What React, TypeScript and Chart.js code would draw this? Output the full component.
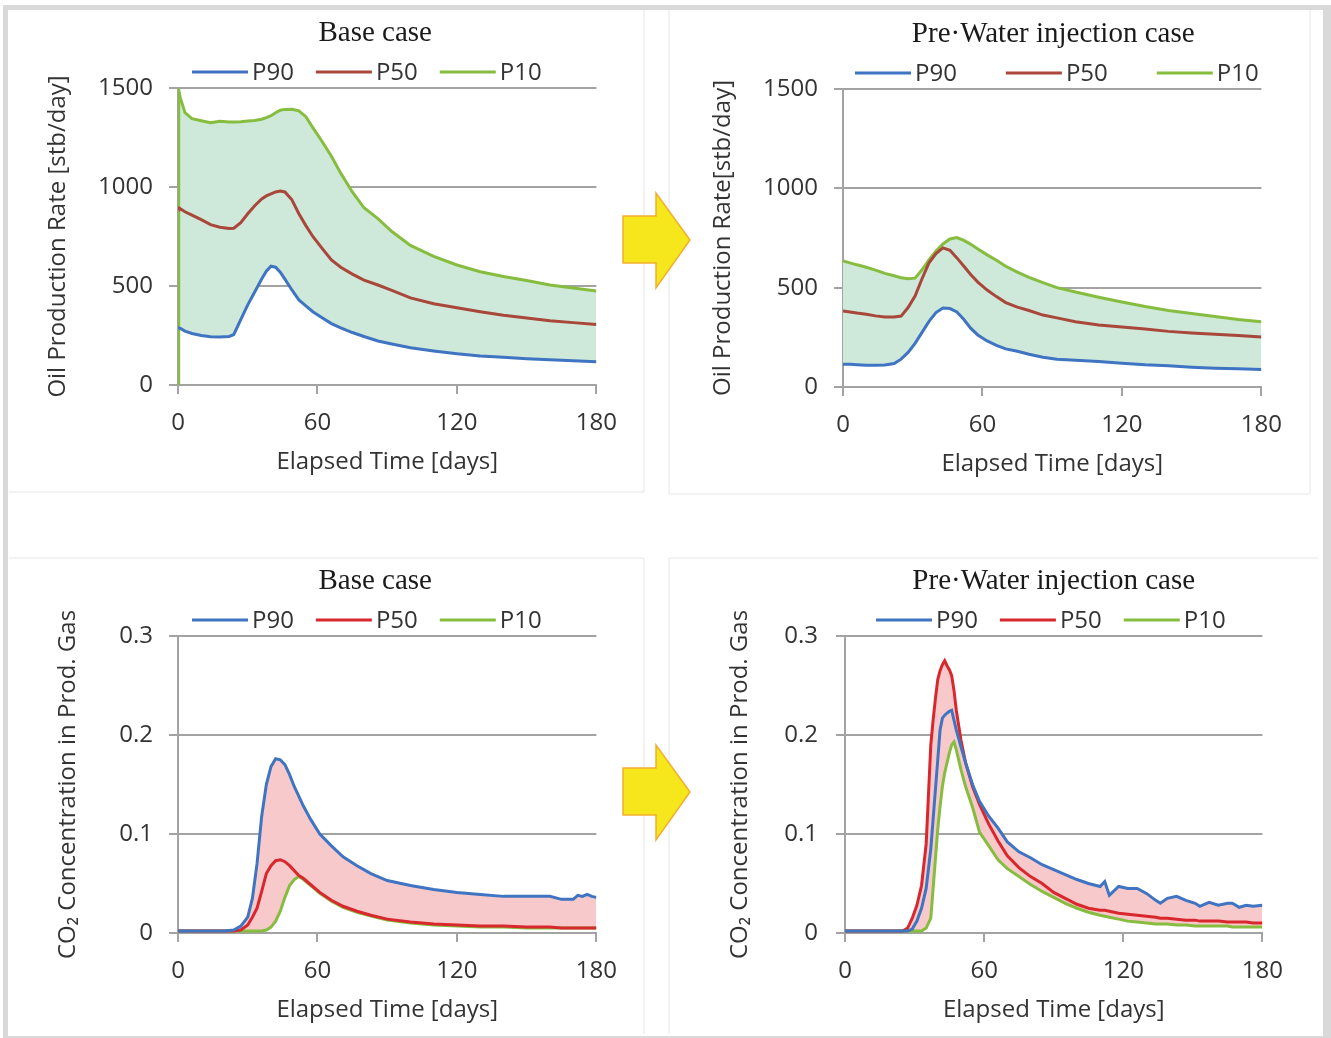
import React, { useEffect, useRef } from "react";
import { Chart, registerables } from "chart.js";

Chart.register(...registerables);

// ---------- DATA ----------
const seriesLabels = ["P90", "P50", "P10"];
const oilTicks = [0, 500, 1000, 1500];
const co2Ticks = [0, 0.1, 0.2, 0.3];
const dayTicks = [0, 60, 120, 180];

// Oil production, base case
const oilBaseDays = [0, 0.3, 1, 3, 6, 10, 14, 18, 22, 24, 27, 30, 33, 36, 38, 40, 42, 44, 46, 49, 52, 55, 58, 62, 66, 70, 75, 80, 86, 92, 100, 110, 120, 130, 140, 150, 160, 170, 180];
const oilBaseP90 = [290, 290, 286, 272, 260, 250, 244, 243, 245, 255, 330, 405, 470, 535, 575, 600, 595, 570, 535, 480, 430, 400, 370, 340, 310, 288, 265, 245, 222, 207, 188, 172, 158, 146, 140, 133, 127, 122, 118];
const oilBaseP50 = [900, 895, 890, 875, 858, 835, 810, 797, 790, 792, 820, 865, 905, 940, 955, 965, 975, 980, 975, 935, 865, 805, 750, 690, 632, 595, 560, 530, 505, 478, 440, 410, 390, 370, 352, 338, 325, 315, 306];
const oilBaseP10 = [0, 1490, 1450, 1375, 1345, 1335, 1325, 1332, 1328, 1328, 1330, 1333, 1336, 1342, 1350, 1360, 1375, 1388, 1392, 1393, 1385, 1355, 1300, 1230, 1155, 1070, 975, 895, 840, 775, 705, 650, 606, 572, 548, 528, 505, 490, 475];

// Oil production, pre-water injection case
const oilPreDays = [0, 3, 6, 10, 14, 18, 22, 25, 28, 31, 34, 37, 40, 43, 46, 49, 52, 55, 58, 62, 66, 70, 75, 80, 86, 92, 100, 110, 120, 130, 140, 150, 160, 170, 180];
const oilPreP90 = [115, 114, 112, 110, 110, 111, 118, 140, 174, 220, 275, 330, 375, 398, 395, 378, 340, 295, 262, 232, 210, 192, 180, 165, 150, 140, 135, 128, 120, 112, 107, 100, 95, 92, 88];
const oilPreP50 = [383, 378, 372, 366, 358, 352, 352, 357, 400, 458, 545, 625, 672, 700, 688, 650, 608, 565, 528, 488, 455, 425, 402, 385, 362, 348, 328, 312, 302, 292, 280, 272, 266, 259, 252];
const oilPreP10 = [634, 625, 615, 603, 588, 572, 560, 550, 545, 548, 590, 640, 685, 720, 745, 752, 738, 718, 695, 665, 638, 608, 578, 552, 525, 500, 478, 452, 428, 405, 385, 370, 355, 340, 328];

// CO2 concentration, base case
const co2BaseDays = [0, 10, 20, 24, 27, 30, 32, 34, 36, 38, 40, 42, 44, 46, 48, 50, 52, 54, 57, 61, 66, 71, 77, 83, 90, 100, 110, 120, 130, 140, 150, 160, 165, 170, 172, 174, 176, 178, 180];
const co2BaseP90 = [0.002, 0.002, 0.002, 0.003, 0.007, 0.016, 0.035, 0.07, 0.118, 0.15, 0.168, 0.176, 0.175, 0.17, 0.16, 0.148, 0.138, 0.128, 0.115, 0.1, 0.088, 0.077, 0.068, 0.06, 0.053, 0.048, 0.044, 0.041, 0.039, 0.037, 0.037, 0.037, 0.034, 0.034, 0.038, 0.037, 0.039, 0.037, 0.036];
const co2BaseP50 = [0.002, 0.002, 0.002, 0.002, 0.003, 0.008, 0.016, 0.025, 0.042, 0.06, 0.068, 0.073, 0.074, 0.072, 0.068, 0.063, 0.058, 0.055, 0.049, 0.041, 0.033, 0.027, 0.022, 0.018, 0.014, 0.011, 0.009, 0.008, 0.007, 0.007, 0.006, 0.006, 0.005, 0.005, 0.005, 0.005, 0.005, 0.005, 0.005];
const co2BaseP10 = [0.002, 0.002, 0.002, 0.002, 0.002, 0.002, 0.002, 0.002, 0.002, 0.003, 0.006, 0.012, 0.022, 0.036, 0.048, 0.054, 0.057, 0.054, 0.048, 0.04, 0.032, 0.026, 0.021, 0.017, 0.013, 0.01, 0.008, 0.007, 0.006, 0.006, 0.005, 0.005, 0.005, 0.005, 0.005, 0.005, 0.005, 0.005, 0.005];

// CO2 concentration, pre-water injection case
const co2PreDays = [0, 10, 20, 25, 27, 29, 31, 33, 35, 37, 38, 39, 40, 41, 42, 43, 44, 45, 46, 47, 48, 50, 52, 55, 58, 62, 66, 70, 75, 80, 85, 90, 95, 100, 105, 110, 112, 114, 118, 122, 126, 130, 134, 136, 139, 143, 147, 151, 153, 157, 161, 165, 167, 170, 173, 176, 180];
const co2PreP90 = [0.002, 0.002, 0.002, 0.002, 0.002, 0.004, 0.012, 0.025, 0.045, 0.085, 0.115, 0.145, 0.175, 0.205, 0.217, 0.22, 0.222, 0.224, 0.225, 0.215, 0.205, 0.188, 0.172, 0.15, 0.133, 0.118, 0.106, 0.092, 0.082, 0.076, 0.069, 0.064, 0.059, 0.054, 0.05, 0.047, 0.052, 0.038, 0.047, 0.045, 0.045, 0.04, 0.033, 0.03, 0.035, 0.037, 0.033, 0.03, 0.027, 0.031, 0.028, 0.03, 0.03, 0.026, 0.028, 0.027, 0.028];
const co2PreP50 = [0.002, 0.002, 0.002, 0.002, 0.005, 0.015, 0.028, 0.048, 0.09, 0.19, 0.215, 0.237, 0.256, 0.265, 0.271, 0.275, 0.27, 0.266, 0.26, 0.245, 0.225, 0.195, 0.172, 0.148, 0.13, 0.11, 0.093, 0.078, 0.066, 0.057, 0.05, 0.041, 0.035, 0.029, 0.025, 0.023, 0.023, 0.022, 0.02, 0.019, 0.018, 0.017, 0.016, 0.015, 0.015, 0.014, 0.013, 0.013, 0.012, 0.012, 0.012, 0.011, 0.011, 0.011, 0.011, 0.01, 0.01];
const co2PreP10 = [0.002, 0.002, 0.002, 0.002, 0.002, 0.002, 0.002, 0.002, 0.005, 0.015, 0.045, 0.075, 0.105, 0.128, 0.148, 0.162, 0.172, 0.182, 0.19, 0.193, 0.185, 0.165, 0.148, 0.127, 0.102, 0.088, 0.074, 0.065, 0.057, 0.049, 0.042, 0.036, 0.03, 0.025, 0.021, 0.018, 0.017, 0.016, 0.014, 0.012, 0.011, 0.01, 0.009, 0.009, 0.009, 0.008, 0.008, 0.007, 0.007, 0.007, 0.007, 0.007, 0.006, 0.006, 0.006, 0.006, 0.006];

// ---------- STYLE ----------
const SANS = "'Open Sans', 'DejaVu Sans', sans-serif";
const SERIF = "'Liberation Serif', 'DejaVu Serif', serif";
const GRID = "#a3a3a3";
const TEXT = "#333333";
const BLUE = "#3f74c2";
const GREEN = "#86bd3f";
const BROWN = "#a8473a";
const RED = "#d8282d";
const MINT = "rgb(206,232,217)";
const PINK = "rgb(248,201,203)";

const headerPlugin = {
  id: "header",
  afterDraw(chart: any, _args: any, opts: any) {
    const { ctx, chartArea } = chart;
    ctx.save();
    ctx.fillStyle = "#1a1a1a";
    ctx.font = `29px ${SERIF}`;
    ctx.textAlign = "center";
    ctx.textBaseline = "middle";
    ctx.fillText(opts.title, (chartArea.left + chartArea.right) / 2 + opts.titleDx, chartArea.top - 55);
    ctx.font = `24px ${SANS}`;
    ctx.textAlign = "left";
    ctx.fillStyle = TEXT;
    let x = chartArea.left + opts.legendDx;
    const y = chartArea.top - 16;
    chart.data.datasets.forEach((ds: any) => {
      ctx.strokeStyle = ds.borderColor;
      ctx.lineWidth = 3;
      ctx.beginPath();
      ctx.moveTo(x, y);
      ctx.lineTo(x + 56, y);
      ctx.stroke();
      ctx.fillText(ds.label, x + 60, y + 1);
      x += 60 + ctx.measureText(ds.label).width + opts.legendGap;
    });
    ctx.restore();
  },
};

type Spec = {
  left: number; top: number; w: number; h: number; yw: number; yPad: number;
  days: number[]; p90: number[]; p50: number[]; p10: number[];
  midColor: string; fillColor: string; fillMid: boolean;
  yMax: number; yTicks: number[]; yTitle: string;
  title: string; titleDx: number; legendDx: number; legendGap: number;
};

function pts(days: number[], vals: number[]) {
  return days.map((d, i) => ({ x: d, y: vals[i] }));
}

function buildConfig(s: Spec): any {
  const fill = { target: 2, above: s.fillColor, below: s.fillColor };
  return {
    type: "line",
    data: {
      datasets: [
        { label: seriesLabels[0], data: pts(s.days, s.p90), borderColor: BLUE, backgroundColor: s.fillColor, borderWidth: 3, pointRadius: 0, fill },
        { label: seriesLabels[1], data: pts(s.days, s.p50), borderColor: s.midColor, backgroundColor: s.fillColor, borderWidth: 3, pointRadius: 0, fill: s.fillMid ? fill : false },
        { label: seriesLabels[2], data: pts(s.days, s.p10), borderColor: GREEN, backgroundColor: s.fillColor, borderWidth: 3, pointRadius: 0, fill: false },
      ],
    },
    plugins: [headerPlugin],
    options: {
      responsive: false,
      animation: false,
      devicePixelRatio: 1,
      layout: { padding: { top: 78, right: 33, left: 0, bottom: 0 } },
      elements: { line: { tension: 0 } },
      plugins: {
        legend: { display: false },
        title: { display: false },
        tooltip: { enabled: false },
        filler: { drawTime: "beforeDatasetsDraw", propagate: false },
        header: { title: s.title, titleDx: s.titleDx, legendDx: s.legendDx, legendGap: s.legendGap },
      },
      scales: {
        x: {
          type: "linear",
          min: dayTicks[0],
          max: dayTicks[dayTicks.length - 1],
          afterBuildTicks: (sc: any) => { sc.ticks = dayTicks.map((v) => ({ value: v })); },
          ticks: { font: { family: SANS, size: 24 }, color: TEXT, padding: 15, maxRotation: 0, callback: (v: any) => String(v) },
          grid: { drawOnChartArea: false, drawTicks: true, tickLength: 9, color: GRID, lineWidth: 2 },
          border: { color: GRID, width: 2 },
          title: { display: true, text: "Elapsed Time [days]", font: { family: SANS, size: 24 }, color: TEXT, padding: 0 },
          afterFit: (sc: any) => { sc.height = 92; },
        },
        y: {
          type: "linear",
          min: 0,
          max: s.yMax,
          afterBuildTicks: (sc: any) => { sc.ticks = s.yTicks.map((v) => ({ value: v })); },
          ticks: { font: { family: SANS, size: 24 }, color: TEXT, padding: s.yPad, callback: (v: any) => String(v) },
          grid: { color: GRID, lineWidth: 2, tickLength: 9 },
          border: { color: GRID, width: 2 },
          title: { display: true, text: s.yTitle, font: { family: SANS, size: 24 }, color: TEXT, padding: 0 },
          afterFit: (sc: any) => { sc.width = s.yw; },
        },
      },
    },
  };
}

const specs: Spec[] = [
  {
    left: 44, top: 10, w: 588, h: 467, yw: 134, yPad: 16,
    days: oilBaseDays, p90: oilBaseP90, p50: oilBaseP50, p10: oilBaseP10,
    midColor: BROWN, fillColor: MINT, fillMid: false,
    yMax: 1500, yTicks: oilTicks, yTitle: "Oil Production Rate [stb/day]",
    title: "Base case", titleDx: -12, legendDx: 14, legendGap: 22,
  },
  {
    left: 709, top: 11, w: 588, h: 468, yw: 134, yPad: 16,
    days: oilPreDays, p90: oilPreP90, p50: oilPreP50, p10: oilPreP10,
    midColor: BROWN, fillColor: MINT, fillMid: false,
    yMax: 1500, yTicks: oilTicks, yTitle: "Oil Production Rate[stb/day]",
    title: "Pre\u00b7Water injection case", titleDx: 1, legendDx: 12, legendGap: 49,
  },
  {
    left: 54, top: 558, w: 578, h: 467, yw: 124, yPad: 16,
    days: co2BaseDays, p90: co2BaseP90, p50: co2BaseP50, p10: co2BaseP10,
    midColor: RED, fillColor: PINK, fillMid: false,
    yMax: 0.3, yTicks: co2Ticks, yTitle: "CO\u2082 Concentration in Prod. Gas",
    title: "Base case", titleDx: -12, legendDx: 14, legendGap: 22,
  },
  {
    left: 726, top: 558, w: 572, h: 467, yw: 119, yPad: 18,
    days: co2PreDays, p90: co2PreP90, p50: co2PreP50, p10: co2PreP10,
    midColor: RED, fillColor: PINK, fillMid: true,
    yMax: 0.3, yTicks: co2Ticks, yTitle: "CO\u2082 Concentration in Prod. Gas",
    title: "Pre\u00b7Water injection case", titleDx: 0, legendDx: 31, legendGap: 22,
  },
];

function ChartPanel({ spec }: { spec: Spec }) {
  const ref = useRef<HTMLCanvasElement>(null);
  useEffect(() => {
    const chart = new Chart(ref.current as HTMLCanvasElement, buildConfig(spec));
    return () => chart.destroy();
  }, [spec]);
  return (
    <canvas
      ref={ref}
      width={spec.w}
      height={spec.h}
      style={{ position: "absolute", left: spec.left, top: spec.top, width: spec.w, height: spec.h }}
    />
  );
}

function Line({ x1, y1, x2, y2 }: { x1: number; y1: number; x2: number; y2: number }) {
  return <line x1={x1} y1={y1} x2={x2} y2={y2} stroke="#e6e6e6" strokeWidth={1} />;
}

function Arrow({ dy }: { dy: number }) {
  const p = [
    [623, 216], [656, 216], [656, 193], [690, 240], [656, 288], [656, 263], [623, 263],
  ].map(([x, y]) => `${x},${y + dy}`).join(" ");
  return <polygon points={p} fill="#f6e61c" stroke="#f2ad2e" strokeWidth={1.5} />;
}

export default function App() {
  return (
    <div style={{ position: "absolute", left: 0, top: 0, width: 1331, height: 1038, background: "#ffffff", overflow: "hidden" }}>
      <svg width={1331} height={1038} style={{ position: "absolute", left: 0, top: 0 }}>
        <Line x1={644} y1={10} x2={644} y2={492} />
        <Line x1={9} y1={492} x2={644} y2={492} />
        <Line x1={669} y1={10} x2={669} y2={494} />
        <Line x1={669} y1={494} x2={1310} y2={494} />
        <Line x1={1310} y1={10} x2={1310} y2={494} />
        <Line x1={9} y1={558} x2={644} y2={558} />
        <Line x1={644} y1={558} x2={644} y2={1034} />
        <Line x1={669} y1={558} x2={1318} y2={558} />
        <Line x1={669} y1={558} x2={669} y2={1034} />
      </svg>
      {specs.map((s, i) => (
        <ChartPanel key={i} spec={s} />
      ))}
      <svg width={1331} height={1038} style={{ position: "absolute", left: 0, top: 0, pointerEvents: "none" }}>
        <Arrow dy={0} />
        <Arrow dy={552} />
      </svg>
      <div
        style={{
          position: "absolute", left: 3, top: 5, width: 1328, height: 1033, boxSizing: "border-box",
          borderStyle: "solid", borderColor: "#d9d9d9", borderWidth: "5px 8px 2px 5px", pointerEvents: "none",
        }}
      />
    </div>
  );
}
